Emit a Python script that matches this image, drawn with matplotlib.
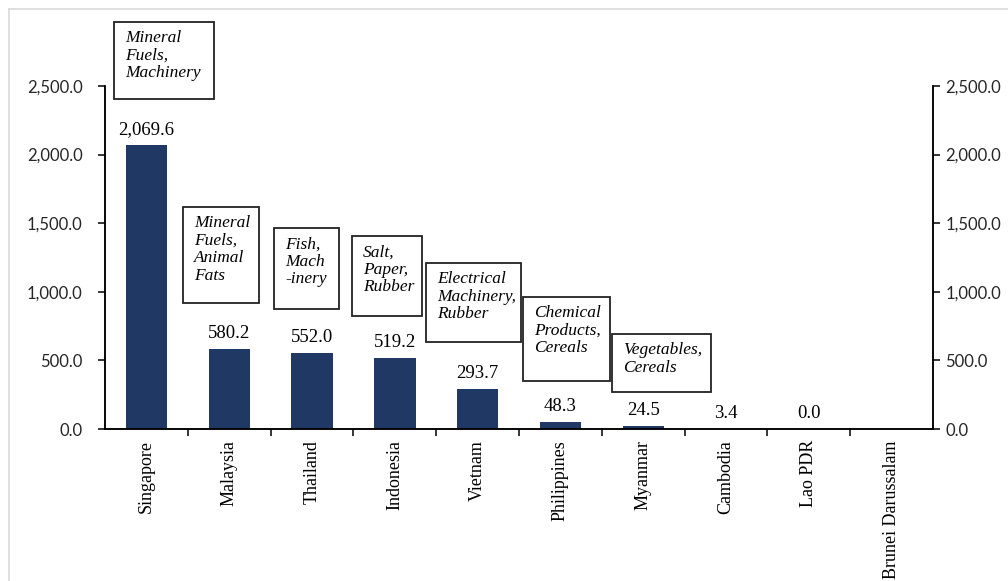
import matplotlib.pyplot as plt
from matplotlib.patches import Rectangle
from matplotlib.ticker import FuncFormatter
import numpy as np

# data
countries = ["Singapore", "Malaysia", "Thailand", "Indonesia", "Vietnam",
             "Philippines", "Myanmar", "Cambodia", "Lao PDR", "Brunei Darussalam"]
values = [2069.6, 580.2, 552.0, 519.2, 293.7, 48.3, 24.5, 3.4, 0.0, np.nan]
products = ["Mineral\nFuels,\nMachinery",
            "Mineral\nFuels,\nAnimal\nFats",
            "Fish,\nMach\n-inery",
            "Salt,\nPaper,\nRubber",
            "Electrical\nMachinery,\nRubber",
            "Chemical\nProducts,\nCereals",
            "Vegetables,\nCereals"]

# layout of the product boxes (x0, x1, y0, y1) in data units
boxes = [(-0.39, 0.82, 2405, 2967),
         (0.44, 1.36, 918, 1618),
         (1.54, 2.33, 875, 1465),
         (2.48, 3.33, 824, 1407),
         (3.38, 4.52, 634, 1210),
         (4.55, 5.60, 350, 962),
         (5.62, 6.82, 270, 692)]

BAR = "#1f3864"
SERIF = "Liberation Serif"
SANS = "Lato"

fig = plt.figure(figsize=(10.08, 5.81), dpi=100)
fig.patch.set_facecolor("white")

# light frame (only top/left edges visible)
fig.add_artist(plt.Line2D([9/1008, 9/1008], [0, 1 - 9/581], transform=fig.transFigure,
                          color="#d9d9d9", lw=1.2))
fig.add_artist(plt.Line2D([9/1008, 1], [1 - 9/581, 1 - 9/581], transform=fig.transFigure,
                          color="#d9d9d9", lw=1.2))

ax = fig.add_axes([105/1008, 152/581, 828/1008, 343/581])
x = np.arange(len(countries))
ax.bar(x, np.nan_to_num(values), width=0.5, color=BAR)

ax.set_xlim(-0.5, len(countries) - 0.5)
ax.set_ylim(0, 2500)
ax.set_yticks(np.arange(0, 2501, 500))
fmt = FuncFormatter(lambda v, p: "{:,.1f}".format(v))
ax.yaxis.set_major_formatter(fmt)

for s in ["left", "right", "bottom"]:
    ax.spines[s].set_linewidth(1.1)
    ax.spines[s].set_color("black")
ax.spines["top"].set_visible(False)

ax.set_xticks(x)
ax.set_xticklabels(countries, rotation=90, fontfamily=SERIF, fontsize=13)
ax.tick_params(axis="x", length=0, pad=8)
ax.set_xticks(np.arange(0.5, len(countries) - 0.5), minor=True)
ax.tick_params(axis="x", which="minor", length=5, width=1.1, direction="out")
ax.tick_params(axis="y", length=5, width=1.1, direction="out", labelsize=12, pad=11,
               labelcolor="#262626")
for t in ax.get_yticklabels():
    t.set_fontfamily(SANS)

ax2 = ax.twinx()
ax2.set_ylim(0, 2500)
ax2.set_yticks(np.arange(0, 2501, 500))
ax2.yaxis.set_major_formatter(fmt)
ax2.tick_params(axis="y", length=5, width=1.1, direction="out", labelsize=12, pad=4,
                labelcolor="#262626")
for t in ax2.get_yticklabels():
    t.set_fontfamily(SANS)
for s in ["left", "right", "bottom"]:
    ax2.spines[s].set_linewidth(1.1)
ax2.spines["top"].set_visible(False)

# value labels
for xi, v in zip(x, values):
    if np.isnan(v):
        continue
    ax.annotate("{:,.1f}".format(v), (xi, v), xytext=(0, 5), textcoords="offset points",
                ha="center", va="bottom", fontfamily=SERIF, fontsize=13.5)

# product boxes
for (x0, x1, y0, y1), txt in zip(boxes, products):
    ax.add_patch(Rectangle((x0, y0), x1 - x0, y1 - y0, fill=False, ec="#222222",
                           lw=1.3, clip_on=False))
    ax.annotate(txt, (x0, y1), xytext=(8, -6), textcoords="offset points",
                ha="left", va="top", fontfamily=SERIF, style="italic",
                fontsize=12.5, linespacing=1.12, annotation_clip=False)

fig.savefig("out.png", dpi=100)
